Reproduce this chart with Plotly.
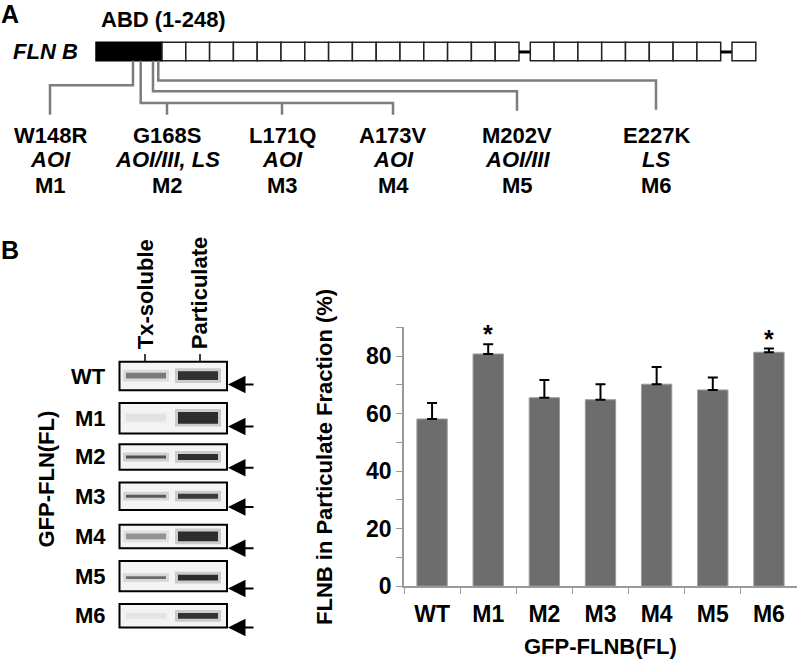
import plotly.graph_objects as go

# ---- panel B bar chart data ----
groups = ['WT', 'M1', 'M2', 'M3', 'M4', 'M5', 'M6']
particulate_pct = [58.1, 80.7, 65.5, 64.8, 70.2, 68.2, 81.3]
particulate_err = [5.6, 3.4, 6.2, 5.4, 6.0, 4.3, 1.3]
significant = [False, True, False, False, False, False, True]

# ---- panel A schematic data ----
mutations = ['W148R', 'G168S', 'L171Q', 'A173V', 'M202V', 'E227K']
residues = [148, 168, 171, 173, 202, 227]
diseases = ['AOI', 'AOI/III, LS', 'AOI', 'AOI', 'AOI/III', 'LS']
mutant_ids = ['M1', 'M2', 'M3', 'M4', 'M5', 'M6']
abd_end = 248
repeat_blocks = [15, 8, 1]   # filamin repeats between the two hinges

# ---- western blot band strength (0 none .. 1 saturated) ----
soluble_band = [0.55, 0.07, 0.78, 0.72, 0.42, 0.62, 0.06]
particulate_band = [0.95, 0.97, 0.97, 0.9, 0.97, 0.97, 0.95]

W, H = 797, 672
FONT = 'Liberation Sans, Arial, sans-serif'
GREY_LINE = '#7d7d7d'
FS = 22

fig = go.Figure()

fig.add_trace(go.Bar(
    x=groups, y=particulate_pct, width=0.54,
    marker=dict(color='#6d6d6d', line=dict(color='#9a9a9a', width=1)),
    error_y=dict(type='data', symmetric=False, array=particulate_err,
                 arrayminus=[0] * len(groups), color='black', thickness=2, width=5),
    showlegend=False, hoverinfo='skip'
))
# empty trace to hold the pixel canvas used for the schematic parts
fig.add_trace(go.Scatter(x=[None], y=[None], xaxis='x2', yaxis='y2',
                         showlegend=False, hoverinfo='skip'))

shapes = []
ann = []


def text(x, y, s, size=FS, angle=0, xanchor='center', italic=False):
    ann.append(dict(x=x, y=y, xref='x2', yref='y2', text=s, showarrow=False,
                    textangle=angle, xanchor=xanchor, yanchor='middle',
                    font=dict(family=FONT, size=size, color='black', weight='bold',
                              style='italic' if italic else 'normal')))


def line_path(p, color=GREY_LINE, width=2.5):
    shapes.append(dict(type='path', path=p, xref='x2', yref='y2',
                       line=dict(color=color, width=width), layer='above'))


# ---------------- panel A ----------------
text(10, 14, 'A', size=25)
text(163, 20, f'ABD (1-{abd_end})')
text(45, 53, 'FLN B', italic=True)

box_top, box_bot = 43, 62
abd_x0, abd_x1 = 96, 162
shapes.append(dict(type='rect', xref='x2', yref='y2', x0=abd_x0, x1=abd_x1,
                   y0=box_top, y1=box_bot, fillcolor='black', line=dict(color='black', width=1.5)))
box_w, hinge = 23.8, 11.3
x = abd_x1
for bi, n in enumerate(repeat_blocks):
    for k in range(n):
        shapes.append(dict(type='rect', xref='x2', yref='y2', x0=x, x1=x + box_w,
                           y0=box_top, y1=box_bot, fillcolor='white',
                           line=dict(color='#222222', width=1.5)))
        x += box_w
    if bi < len(repeat_blocks) - 1:
        shapes.append(dict(type='line', xref='x2', yref='y2', x0=x, x1=x + hinge,
                           y0=53, y1=53, line=dict(color='black', width=3)))
        x += hinge

# connectors
label_x = [50, 167, 282, 393, 517, 656]
drop_end = 117
line_path(f'M 133 {box_bot} V 87 H {label_x[0]} V {drop_end}')
line_path(f'M 140.7 {box_bot} V 105 H {label_x[3]} V {drop_end}')
line_path(f'M {label_x[1]} 105 V {drop_end}')
line_path(f'M {label_x[2]} 105 V {drop_end}')
line_path(f'M 153 {box_bot} V 93 H {label_x[4]} V {drop_end - 4}')
line_path(f'M 158.3 {box_bot} V 82 H {label_x[5]} V {drop_end - 5}')

for lx, m, d, mid in zip(label_x, mutations, diseases, mutant_ids):
    text(lx, 138, m)
    text(lx, 163, d, italic=True)
    text(lx, 189, mid)

# ---------------- panel B : blot ----------------
text(10, 255, 'B', size=25)
text(145, 300, 'Tx-soluble', angle=-90)
text(199, 299, 'Particulate', angle=-90)
for tx in (145, 200):
    shapes.append(dict(type='line', xref='x2', yref='y2', x0=tx, x1=tx, y0=361, y1=368,
                       line=dict(color='black', width=1.5)))
text(47, 489, 'GFP-FLN(FL)', angle=-90)

blot_rows = [(369, 398), (411, 442), (453, 479), (492, 520), (535, 559), (572, 603), (616, 640)]
band_y = [383, 426, 466, 506, 547, 589, 628]
sol_h = [6, 8, 3, 3, 6, 3, 6]
part_h = [9, 12, 6, 5, 10, 6, 6]
arrow_y = [392, 435, 477, 517, 559, 600, 640]
lanes = [(126, 166), (178, 218)]

for i, g in enumerate(groups):
    y0, y1 = blot_rows[i]
    shapes.append(dict(type='rect', xref='x2', yref='y2', x0=119.5, x1=227, y0=y0, y1=y1,
                       fillcolor='#f4f4f4', line=dict(color='black', width=2)))
    for (lx0, lx1), v, h in ((lanes[0], soluble_band[i], sol_h[i]),
                             (lanes[1], particulate_band[i], part_h[i])):
        shapes.append(dict(type='rect', xref='x2', yref='y2', x0=lx0 - 3, x1=lx1 + 3,
                           y0=band_y[i] - h / 2 - 3, y1=band_y[i] + h / 2 + 3,
                           fillcolor=f'rgba(0,0,0,{v * 0.18:.2f})', line=dict(width=0)))
        shapes.append(dict(type='rect', xref='x2', yref='y2', x0=lx0, x1=lx1,
                           y0=band_y[i] - h / 2, y1=band_y[i] + h / 2,
                           fillcolor=f'rgba(0,0,0,{v * 0.8:.2f})', line=dict(width=0)))
    text(108, (y0 + y1) / 2, g, xanchor='right')
    ann.append(dict(x=228, y=arrow_y[i], ax=255, ay=arrow_y[i], xref='x2', yref='y2',
                    axref='x2', ayref='y2', text='', showarrow=True, arrowhead=2,
                    arrowsize=1.75, arrowwidth=2, arrowcolor='black'))

# ---------------- panel B : bar chart labels ----------------
text(325, 466, 'FLNB in Particulate Fraction (%)', angle=-90)
text(600, 659, 'GFP-FLNB(FL)')
for g, v, e, s in zip(groups, particulate_pct, particulate_err, significant):
    if s:
        ann.append(dict(x=g, y=v + e, xref='x', yref='y', text='*', showarrow=False,
                        yanchor='bottom', yshift=-6,
                        font=dict(family=FONT, size=25, weight='bold')))

axis_grey = '#9a9a9a'
fig.update_layout(
    width=W, height=H,
    margin=dict(l=0, r=0, t=0, b=0),
    paper_bgcolor='white', plot_bgcolor='rgba(0,0,0,0)',
    font=dict(family=FONT, color='black'),
    xaxis=dict(domain=[404 / W, 1], range=[-0.5, 6.5], showline=True, linecolor=axis_grey,
               linewidth=1.5, ticks='outside', tickson='boundaries', ticklen=6,
               tickcolor=axis_grey, tickfont=dict(size=23, weight='bold'), showgrid=False,
               ticklabelstandoff=7),
    yaxis=dict(domain=[(H - 597.7) / H, (H - 333.7) / H], range=[0, 90], dtick=20, tick0=0,
               showline=True, linecolor=axis_grey, linewidth=1.5, ticks='outside',
               ticklen=6, tickcolor=axis_grey, showgrid=False, zeroline=False,
               tickfont=dict(size=23, weight='bold'),
               minor=dict(dtick=10, ticks='outside', ticklen=6, tickcolor=axis_grey)),
    xaxis2=dict(domain=[0, 1], range=[0, W], visible=False, anchor='y2', fixedrange=True),
    yaxis2=dict(domain=[0, 1], range=[H, 0], visible=False, anchor='x2', fixedrange=True),
    shapes=shapes,
    annotations=ann,
)

fig.write_html('out.html', config={'displayModeBar': False},
               post_script="document.body.style.margin='0px';")
